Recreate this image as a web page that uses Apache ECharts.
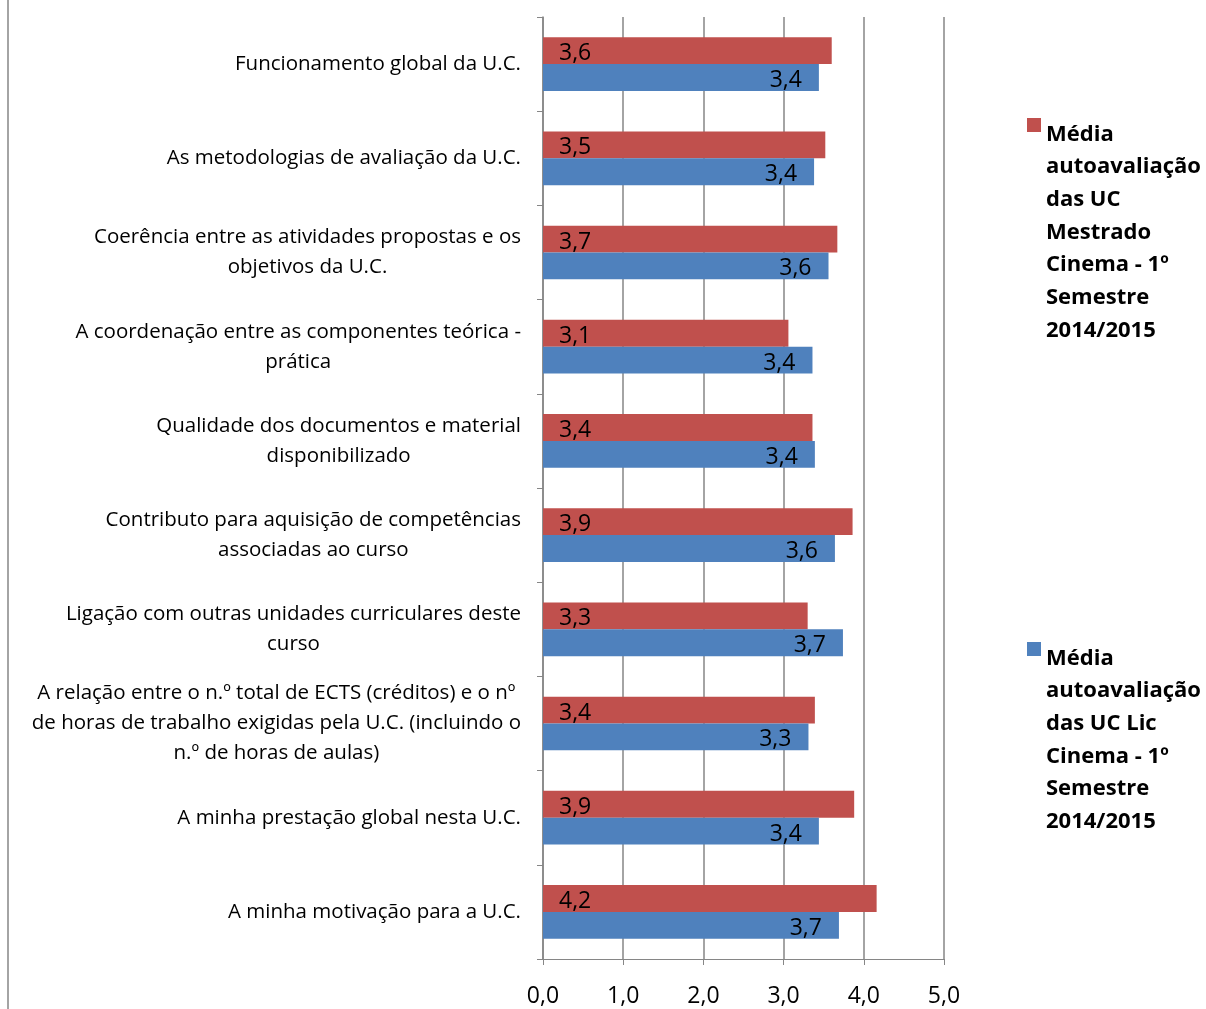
<!DOCTYPE html>
<html>
<head>
<meta charset="utf-8">
<style>html,body{margin:0;padding:0;background:#fff;}#c{width:1206px;height:1009px;}</style>
<script src="https://cdn.jsdelivr.net/npm/echarts@6/dist/echarts.min.js"></script>
</head>
<body>
<div id="c"></div>
<script>
const categories = [
  'Funcionamento global da U.C.',
  'As metodologias de avaliação da U.C.',
  'Coerência entre as atividades propostas e os\nobjetivos da U.C.',
  'A coordenação entre as componentes teórica -\nprática',
  'Qualidade dos documentos e material\ndisponibilizado',
  'Contributo para aquisição de competências\nassociadas ao curso',
  'Ligação com outras unidades curriculares deste\ncurso',
  'A relação entre o n.º total de ECTS (créditos) e o nº\nde horas de trabalho exigidas pela U.C. (incluindo o\nn.º de horas de aulas)',
  'A minha prestação global nesta U.C.',
  'A minha motivação para a U.C.'
];
const seriesMestrado = [3.60, 3.52, 3.67, 3.06, 3.36, 3.86, 3.30, 3.39, 3.88, 4.16];
const seriesLic = [3.44, 3.38, 3.56, 3.36, 3.39, 3.64, 3.74, 3.31, 3.44, 3.69];
const nameMestrado = 'Média\nautoavaliação\ndas UC\nMestrado\nCinema - 1º\nSemestre\n2014/2015';
const nameLic = 'Média\nautoavaliação\ndas UC Lic\nCinema - 1º\nSemestre\n2014/2015';
const xTicks = ['0,0', '1,0', '2,0', '3,0', '4,0', '5,0'];

const FONT = '"Open Sans", "Noto Sans", sans-serif';
const fmt = v => v.toFixed(1).replace('.', ',');
const chart = echarts.init(document.getElementById('c'));
const iconPath = (h) => 'path://M0,0h14v14h-14z M0,' + (h - 0.01) + 'h0.01v0.01h-0.01z';

chart.setOption({
  animation: false,
  backgroundColor: '#fff',
  textStyle: { fontFamily: FONT },
  grid: { left: 543, right: 262, top: 17, bottom: 50 },
  xAxis: {
    type: 'value', min: 0, max: 5, interval: 1,
    axisLine: { show: true, lineStyle: { color: '#868686' } },
    axisTick: { show: true, length: 6, lineStyle: { color: '#868686' } },
    splitLine: { show: true, lineStyle: { color: '#868686', width: 1.5 } },
    axisLabel: { fontSize: 23, color: '#000', margin: 26, fontFamily: FONT,
      formatter: v => xTicks[Math.round(v)] }
  },
  yAxis: {
    type: 'category', inverse: true, data: categories,
    axisLine: { show: true, lineStyle: { color: '#868686', width: 1.5 } },
    axisTick: { show: true, length: 6, lineStyle: { color: '#868686' } },
    axisLabel: {
      margin: 22, color: '#000', fontSize: 20.5, lineHeight: 30, fontFamily: FONT,
      formatter: v => v.split('\n').map(l => '{c|' + l + '}').join('\n'),
      rich: { c: { align: 'center', fontSize: 20.5, lineHeight: 30, fontFamily: FONT, color: '#000' } }
    }
  },
  legend: [
    {
      data: [{ name: nameMestrado, icon: iconPath(229) }],
      orient: 'vertical', left: 1027, top: 118, padding: 0,
      itemWidth: 14, itemHeight: 229, symbolKeepAspect: false,
      textStyle: { fontSize: 22, fontWeight: 'bold', lineHeight: 32.7, color: '#000', fontFamily: FONT },
      itemGap: 0, selectedMode: false
    },
    {
      data: [{ name: nameLic, icon: iconPath(196) }],
      orient: 'vertical', left: 1027, top: 642, padding: 0,
      itemWidth: 14, itemHeight: 196, symbolKeepAspect: false,
      textStyle: { fontSize: 22, fontWeight: 'bold', lineHeight: 32.7, color: '#000', fontFamily: FONT },
      itemGap: 0, selectedMode: false
    }
  ],
  graphic: [
    { type: 'line', shape: { x1: 8, y1: 0, x2: 8, y2: 1009 }, style: { stroke: '#868686', lineWidth: 1.5 } }
  ],
  series: [
    {
      name: nameMestrado, type: 'bar', data: seriesMestrado,
      barGap: '0%', barCategoryGap: '43%',
      itemStyle: { color: '#C0504D' },
      label: { show: true, position: 'insideLeft', distance: 16, offset: [0, 3], fontSize: 23, color: '#000', fontFamily: FONT,
        formatter: p => fmt(p.value) }
    },
    {
      name: nameLic, type: 'bar', data: seriesLic,
      barGap: '0%', barCategoryGap: '43%',
      itemStyle: { color: '#4F81BD' },
      label: { show: true, position: 'insideRight', distance: 17, offset: [0, 3], fontSize: 23, color: '#000', fontFamily: FONT,
        formatter: p => fmt(p.value) }
    }
  ]
});
</script>
</body>
</html>
